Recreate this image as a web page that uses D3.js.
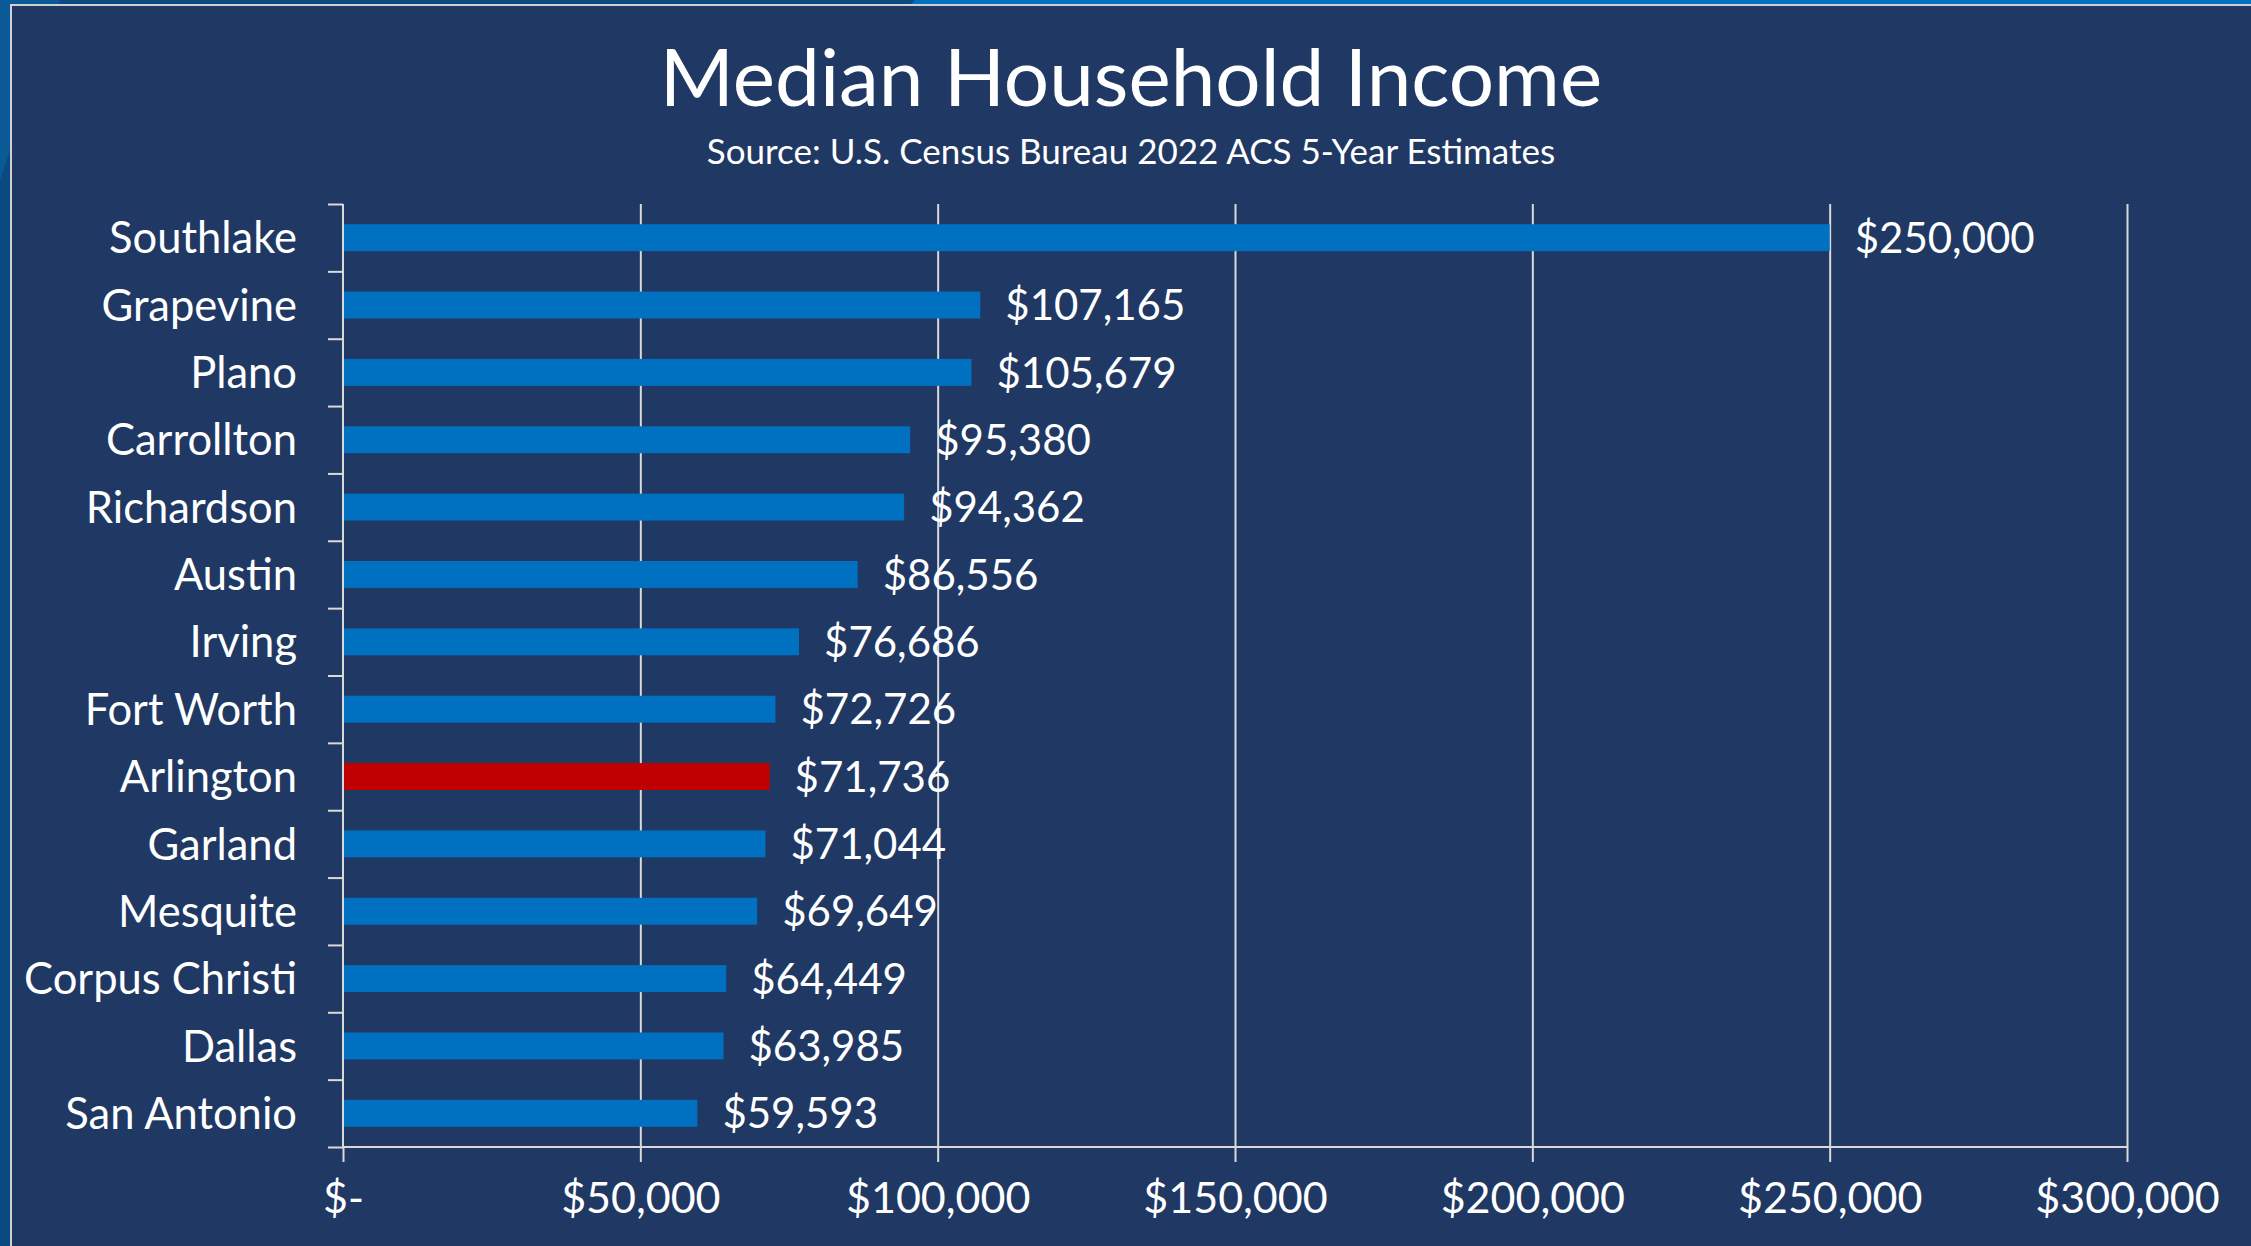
<!DOCTYPE html>
<html>
<head>
<meta charset="utf-8">
<script src="https://cdn.jsdelivr.net/npm/d3@7"></script>
<style>
  html, body { margin: 0; padding: 0; background: #0a4a80; overflow: hidden; }
  svg { display: block; font-family: Lato, "Open Sans", sans-serif; }
</style>
</head>
<body>
<script>
// data
const cities = ["Southlake", "Grapevine", "Plano", "Carrollton", "Richardson", "Austin", "Irving",
                "Fort Worth", "Arlington", "Garland", "Mesquite", "Corpus Christi", "Dallas", "San Antonio"];
const incomes = [250000, 107165, 105679, 95380, 94362, 86556, 76686,
                 72726, 71736, 71044, 69649, 64449, 63985, 59593];
const highlightCity = "Arlington";
const xTicks = [0, 50000, 100000, 150000, 200000, 250000, 300000];
const titleText = "Median Household Income";
const subtitleText = "Source: U.S. Census Bureau 2022 ACS 5-Year Estimates";

const width = 2251, height = 1246;
const plot = {left: 343, right: 2127, top: 204, bottom: 1147};

const svg = d3.select("body").append("svg")
              .attr("width", width)
              .attr("height", height);

// slide background behind the chart panel
svg.append("rect").attr("width", width).attr("height", height).attr("fill", "#0a4a80");
svg.append("polygon")
   .attr("points", "915,0 " + width + ",0 " + width + ",12 905,12")
   .attr("fill", "#0070c0");
svg.append("polygon")
   .attr("points", "0,0 60,0 0,180")
   .attr("fill", "#0b5a98");

// chart panel
svg.append("rect")
   .attr("x", 11).attr("y", 5)
   .attr("width", width + 20).attr("height", height + 20)
   .attr("fill", "#203864")
   .attr("stroke", "#d0d0d0")
   .attr("stroke-width", 2);

// titles
svg.append("text")
   .attr("x", 1131).attr("y", 106)
   .attr("text-anchor", "middle")
   .attr("fill", "#ffffff")
   .attr("font-size", 80)
   .text(titleText);

svg.append("text")
   .attr("x", 1131).attr("y", 164)
   .attr("text-anchor", "middle")
   .attr("fill", "#ffffff")
   .attr("font-size", 35)
   .text(subtitleText);

// scales
const x = d3.scaleLinear().domain([0, 300000]).range([plot.left, plot.right]);
const y = d3.scaleBand().domain(cities).range([plot.top, plot.bottom])
            .paddingInner(0.6).paddingOuter(0.3);
const yEdge = d3.scaleLinear().domain([0, cities.length]).range([plot.top, plot.bottom]);

const money = d3.format(",");
const fmt = d => d === 0 ? "$-" : "$" + money(d);

// gridlines
const grid = svg.append("g")
   .attr("transform", "translate(0," + plot.bottom + ")")
   .call(d3.axisBottom(x).tickValues(xTicks.slice(1)).tickSize(-(plot.bottom - plot.top)).tickFormat(""));
grid.select(".domain").remove();
grid.selectAll("line").attr("stroke", "#d9d9d9").attr("stroke-width", 2);

// bars
svg.selectAll(".bar")
   .data(cities)
   .enter()
   .append("rect")
   .attr("class", "bar")
   .attr("x", x(0))
   .attr("y", d => y(d))
   .attr("width", (d, i) => x(incomes[i]) - x(0))
   .attr("height", y.bandwidth())
   .attr("fill", d => d === highlightCity ? "#c00000" : "#0070c0");

// value labels
svg.selectAll(".val")
   .data(cities)
   .enter()
   .append("text")
   .attr("class", "val")
   .attr("x", (d, i) => x(incomes[i]) + 25)
   .attr("y", d => y(d) + y.bandwidth() / 2)
   .attr("dy", "0.36em")
   .attr("fill", "#ffffff")
   .attr("font-size", 42)
   .text((d, i) => "$" + money(incomes[i]));

// x axis
const xAxis = svg.append("g")
   .attr("transform", "translate(0," + plot.bottom + ")")
   .call(d3.axisBottom(x).tickValues(xTicks).tickSize(15).tickPadding(20).tickFormat(fmt));
xAxis.select(".domain").attr("stroke", "#d9d9d9").attr("stroke-width", 2)
     .attr("d", "M" + plot.left + ",0H" + plot.right);
xAxis.selectAll("line").attr("stroke", "#d9d9d9").attr("stroke-width", 2);
xAxis.selectAll("text").attr("fill", "#ffffff").attr("font-size", 43)
     .attr("font-family", "Lato, sans-serif");

// y axis (ticks between categories)
const yAxis = svg.append("g")
   .attr("transform", "translate(" + plot.left + ",0)")
   .call(d3.axisLeft(yEdge).tickValues(d3.range(cities.length + 1)).tickSize(15).tickFormat(""));
yAxis.select(".domain").attr("stroke", "#d9d9d9").attr("stroke-width", 2)
     .attr("d", "M0," + plot.top + "V" + plot.bottom);
yAxis.selectAll("line").attr("stroke", "#d9d9d9").attr("stroke-width", 2);

// category labels
svg.selectAll(".cat")
   .data(cities)
   .enter()
   .append("text")
   .attr("class", "cat")
   .attr("x", 297)
   .attr("y", d => y(d) + y.bandwidth() / 2)
   .attr("dy", "0.36em")
   .attr("text-anchor", "end")
   .attr("fill", "#ffffff")
   .attr("font-size", 43.5)
   .text(d => d);
</script>
</body>
</html>
